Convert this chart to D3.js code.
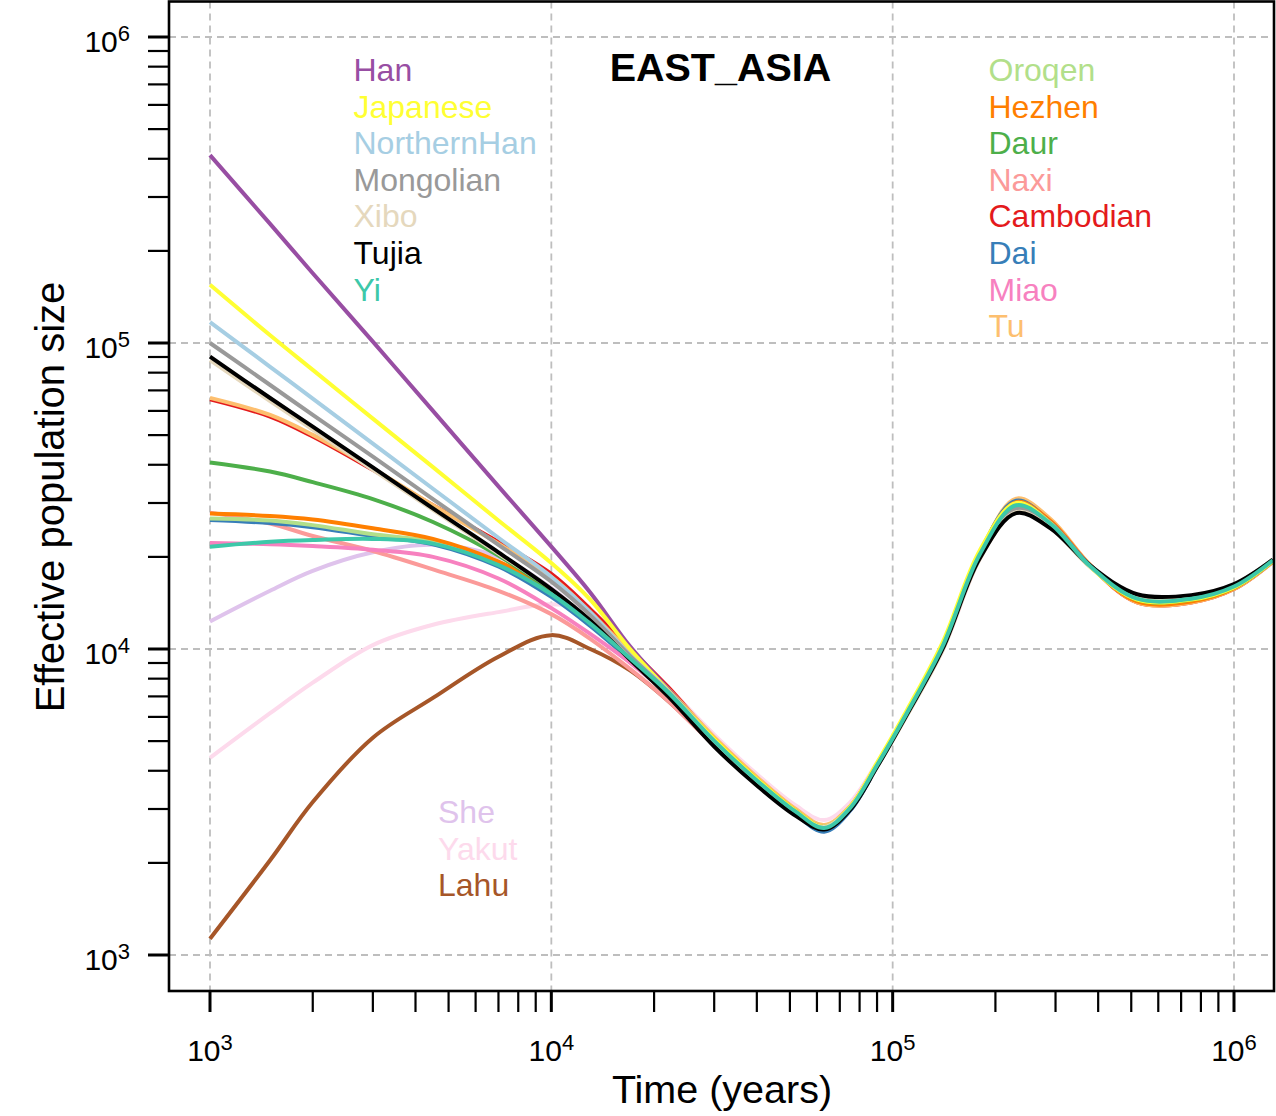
<!DOCTYPE html>
<html>
<head>
<meta charset="utf-8">
<script src="https://cdn.jsdelivr.net/npm/d3@7"></script>
<style>
html,body{margin:0;padding:0;background:#fff;}
svg{display:block;}
text{font-family:"Liberation Sans",Arial,Helvetica,sans-serif;}
</style>
</head>
<body>
<svg id="chart" width="1276" height="1116"></svg>
<script>
// Time knots (years)
const times = [1000, 1500, 2000, 3000, 4500, 7000, 10000, 13000, 17000, 22000, 30000, 40000, 52000, 63000, 75000, 90000, 110000, 140000, 180000, 230000, 290000, 380000, 520000, 750000, 1000000, 1300000];

// Effective population size per population at those times
const han         = [411000, 245000, 169000, 101000, 60000, 34000, 21600, 15300, 10200, 7400, 5050, 3740, 2950, 2610, 3030, 4180, 6200, 10300, 20600, 30000, 25900, 18700, 14600, 14600, 16000, 19500];
const japanese    = [155000, 106000, 81700, 56600, 39300, 26300, 19100, 14500, 10000, 7330, 5080, 3760, 2960, 2620, 3050, 4250, 6300, 10500, 21000, 30000, 25800, 18500, 14500, 14500, 15900, 19400];
const northernHan = [117000, 83600, 65800, 46900, 33400, 23100, 17200, 13200, 9550, 7280, 5000, 3700, 2920, 2590, 3000, 4150, 6150, 10100, 20200, 29000, 25500, 18600, 14700, 14700, 16100, 19500];
const mongolian   = [100000, 72900, 58200, 42500, 30900, 21900, 16600, 12900, 9500, 7240, 4950, 3680, 2900, 2580, 3000, 4150, 6100, 10100, 20100, 28700, 25300, 18600, 14800, 14800, 16200, 19600];
const xibo        = [87900, 64600, 52100, 38500, 28500, 20500, 15700, 12400, 9290, 7080, 4920, 3660, 2900, 2620, 3020, 4120, 6050, 9900, 19700, 28000, 24900, 18500, 14900, 14900, 16200, 19600];
const tujia       = [90200, 66100, 53300, 39200, 28800, 20700, 15700, 12400, 9230, 7000, 4800, 3580, 2850, 2570, 2980, 4120, 6100, 10000, 19800, 27800, 24800, 18700, 15100, 15000, 16300, 19600];
const yi          = [21600, 22400, 22700, 22900, 22100, 18800, 15100, 12100, 9330, 7210, 5010, 3720, 2940, 2600, 3020, 4170, 6170, 10200, 20400, 29500, 25700, 18600, 14600, 14600, 16000, 19500];
const oroqen      = [26700, 26300, 25400, 23700, 22400, 19000, 15200, 12200, 9330, 7210, 5050, 3750, 2960, 2630, 3040, 4180, 6180, 10200, 20400, 29600, 25800, 18600, 14500, 14500, 15900, 19400];
const hezhen      = [27700, 27200, 26500, 24800, 22900, 19300, 15500, 12300, 9440, 7240, 5080, 3760, 2960, 2620, 3030, 4170, 6170, 10200, 20400, 30200, 26200, 18700, 14300, 14300, 15800, 19400];
const daur        = [40700, 38000, 35100, 30900, 26000, 20200, 15500, 12300, 9440, 7230, 5000, 3720, 2940, 2600, 3020, 4170, 6170, 10200, 20300, 29600, 25700, 18600, 14500, 14500, 15900, 19400];
const naxi        = [27900, 25700, 23400, 20900, 18200, 15500, 13000, 10800, 8610, 6760, 4840, 3640, 2900, 2590, 3010, 4160, 6150, 10100, 20200, 29400, 25700, 18600, 14400, 14400, 15800, 19400];
const cambodian   = [65500, 57500, 49500, 38500, 29500, 22400, 17600, 13500, 10000, 7500, 5100, 3780, 2980, 2640, 3050, 4200, 6200, 10200, 20500, 30600, 26300, 18700, 14200, 14200, 15700, 19300];
const dai         = [26400, 25800, 25000, 23400, 22000, 18600, 14800, 11900, 9230, 7160, 4980, 3680, 2880, 2530, 2960, 4130, 6150, 10300, 20700, 30500, 26000, 18600, 14500, 14500, 15900, 19400];
const miao        = [22200, 22000, 21700, 21100, 20000, 17000, 13600, 11200, 9020, 7080, 4980, 3700, 2920, 2590, 3010, 4160, 6160, 10200, 20400, 29800, 25800, 18600, 14500, 14500, 15900, 19400];
const tu          = [66200, 58200, 50100, 38900, 29500, 22100, 17200, 13200, 9770, 7410, 5150, 3820, 3000, 2660, 3060, 4200, 6200, 10200, 20500, 31000, 26600, 18800, 14200, 14200, 15700, 19300];
const she         = [12300, 15500, 18000, 20700, 21900, 20000, 15800, 12300, 9440, 7250, 5050, 3720, 2900, 2540, 2970, 4140, 6150, 10200, 20300, 29200, 25600, 18600, 14600, 14600, 16000, 19500];
const yakut       = [4410, 6170, 7760, 10300, 12000, 13200, 14000, 13300, 10000, 7500, 5250, 3900, 3080, 2760, 3150, 4250, 6150, 9900, 19700, 29000, 25600, 18600, 14700, 14700, 16100, 19500];
const lahu        = [1130, 2040, 3160, 5130, 6920, 9440, 11100, 10000, 8510, 6760, 4860, 3660, 2920, 2600, 3020, 4170, 6170, 10200, 20400, 29500, 25700, 18600, 14600, 14600, 16000, 19500];

const seriesNames  = ["Han","Japanese","NorthernHan","Mongolian","Xibo","Tujia","Yi","Oroqen","Hezhen","Daur","Naxi","Cambodian","Dai","Miao","Tu","She","Yakut","Lahu"];
const seriesValues = [han, japanese, northernHan, mongolian, xibo, tujia, yi, oroqen, hezhen, daur, naxi, cambodian, dai, miao, tu, she, yakut, lahu];
const seriesColors = ["#984EA3","#FFFF33","#A6CEE3","#999999","#E5D8BD","#000000","#3DC8A9","#B2DF8A","#FF7F00","#4DAF4A","#FB9A99","#E41A1C","#377EB8","#F781BF","#FDBF6F","#DFC3EC","#FDDAEC","#A65628"];
// drawing order (last on top)
const drawOrder = ["Lahu","Yakut","She","Naxi","Cambodian","Tu","Dai","Miao","Oroqen","Hezhen","Daur","Han","Japanese","NorthernHan","Mongolian","Xibo","Tujia","Yi"];
const legendLeft   = ["Han","Japanese","NorthernHan","Mongolian","Xibo","Tujia","Yi"];
const legendRight  = ["Oroqen","Hezhen","Daur","Naxi","Cambodian","Dai","Miao","Tu"];
const legendBottom = ["She","Yakut","Lahu"];

const decadeExps = [3, 4, 5, 6];
const title = "EAST_ASIA";
const xLabel = "Time (years)";
const yLabel = "Effective population size";

const svg = d3.select("#chart");
const frame = {left: 169, right: 1274, top: 1.5, bottom: 991};

const x = d3.scaleLog().domain([1e3, 1e6]).range([210, 1234]);
const y = d3.scaleLog().domain([1e3, 1e6]).range([955, 37]);

const color = d3.scaleOrdinal().domain(seriesNames).range(seriesColors);

// grid
const grid = svg.append("g");
decadeExps.forEach(e => {
  grid.append("line").attr("x1", x(Math.pow(10, e))).attr("x2", x(Math.pow(10, e)))
    .attr("y1", frame.top).attr("y2", frame.bottom)
    .attr("stroke", "#BEBEBE").attr("stroke-width", 1.8).attr("stroke-dasharray", "7,5");
  grid.append("line").attr("y1", y(Math.pow(10, e))).attr("y2", y(Math.pow(10, e)))
    .attr("x1", frame.left).attr("x2", frame.right)
    .attr("stroke", "#BEBEBE").attr("stroke-width", 1.8).attr("stroke-dasharray", "7,5");
});

// lines
const line = d3.line()
  .x((d, i) => x(times[i]))
  .y(d => y(d))
  .curve(d3.curveCatmullRom.alpha(0.5));

const gLines = svg.append("g");
drawOrder.forEach(name => {
  const idx = seriesNames.indexOf(name);
  gLines.append("path")
    .attr("d", line(seriesValues[idx]))
    .attr("fill", "none")
    .attr("stroke", color(name))
    .attr("stroke-width", 4)
    .attr("stroke-linejoin", "round")
    .attr("stroke-linecap", "butt");
});

// frame
svg.append("rect").attr("x", frame.left).attr("y", frame.top)
  .attr("width", frame.right - frame.left).attr("height", frame.bottom - frame.top)
  .attr("fill", "none").attr("stroke", "#000").attr("stroke-width", 2.6);

// ticks
const allTicks = [];
for (let e = 3; e <= 6; e++) {
  for (let m = 1; m <= 9; m++) {
    const v = m * Math.pow(10, e);
    if (v <= 1e6) allTicks.push({v: v, major: m === 1});
  }
}
const gTicks = svg.append("g");
allTicks.forEach(t => {
  gTicks.append("line").attr("x1", 148).attr("x2", frame.left)
    .attr("y1", y(t.v)).attr("y2", y(t.v))
    .attr("stroke", "#000").attr("stroke-width", t.major ? 3 : 2.2);
  gTicks.append("line").attr("y1", frame.bottom).attr("y2", 1012)
    .attr("x1", x(t.v)).attr("x2", x(t.v))
    .attr("stroke", "#000").attr("stroke-width", t.major ? 3 : 2.2);
});

// tick labels
decadeExps.forEach(e => {
  const ty = svg.append("text").attr("x", 130).attr("y", y(Math.pow(10, e)) + 15)
    .attr("text-anchor", "end").attr("font-size", 30).attr("fill", "#000");
  ty.append("tspan").text("10");
  ty.append("tspan").attr("font-size", 22).attr("dy", -11).text(String(e));

  const tx = svg.append("text").attr("x", x(Math.pow(10, e))).attr("y", 1061)
    .attr("text-anchor", "middle").attr("font-size", 30).attr("fill", "#000");
  tx.append("tspan").text("10");
  tx.append("tspan").attr("font-size", 22).attr("dy", -11).text(String(e));
});

// axis labels
svg.append("text").attr("x", 722).attr("y", 1103).attr("text-anchor", "middle")
  .attr("font-size", 39.5).attr("fill", "#000").text(xLabel);
svg.append("text").attr("transform", "translate(64,497) rotate(-90)").attr("text-anchor", "middle")
  .attr("font-size", 40).attr("fill", "#000").text(yLabel);

// title
svg.append("text").attr("x", 720.5).attr("y", 81).attr("text-anchor", "middle")
  .attr("font-size", 39.5).attr("font-weight", "bold").attr("fill", "#000").text(title);

// legends
function legend(names, x0, y0) {
  names.forEach((n, i) => {
    svg.append("text").attr("x", x0).attr("y", y0 + i * 36.6)
      .attr("font-size", 32).attr("fill", color(n)).text(n);
  });
}
legend(legendLeft, 353.5, 81);
legend(legendRight, 988.5, 81);
legend(legendBottom, 438, 823);
</script>
</body>
</html>
